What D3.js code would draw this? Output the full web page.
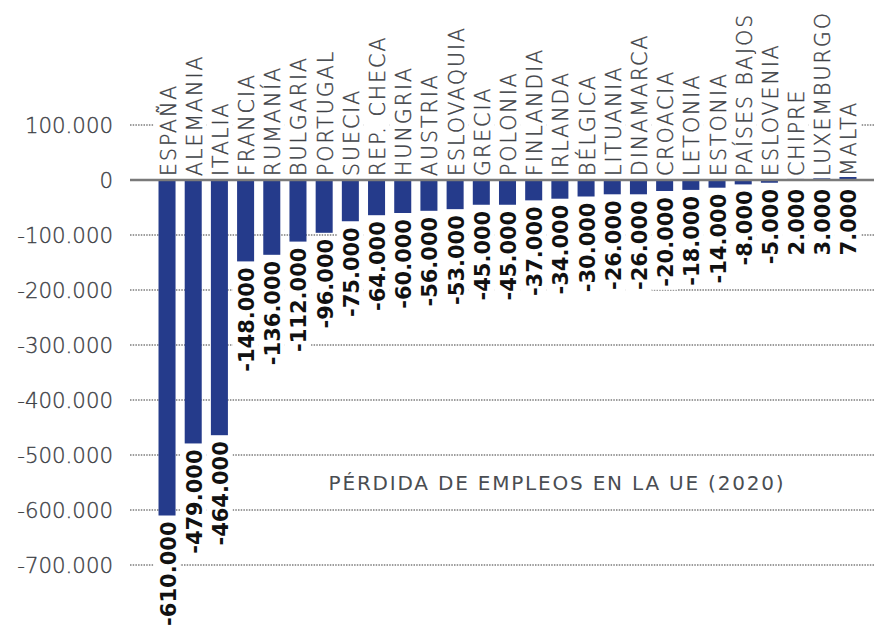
<!DOCTYPE html>
<html>
<head>
<meta charset="utf-8">
<script src="https://cdn.jsdelivr.net/npm/d3@7"></script>
<style>
  html, body { margin: 0; padding: 0; background: #fff; }
  svg { display: block; }
</style>
</head>
<body>
<svg id="chart" width="874" height="625"></svg>
<script>
const categories = ["ESPAÑA","ALEMANIA","ITALIA","FRANCIA","RUMANÍA","BULGARIA","PORTUGAL","SUECIA","REP. CHECA","HUNGRIA","AUSTRIA","ESLOVAQUIA","GRECIA","POLONIA","FINLANDIA","IRLANDA","BÉLGICA","LITUANIA","DINAMARCA","CROACIA","LETONIA","ESTONIA","PAÍSES BAJOS","ESLOVENIA","CHIPRE","LUXEMBURGO","MALTA"];
const values = [-610000,-479000,-464000,-148000,-136000,-112000,-96000,-75000,-64000,-60000,-56000,-53000,-45000,-45000,-37000,-34000,-30000,-26000,-26000,-20000,-18000,-14000,-8000,-5000,2000,3000,7000];
const yTicks = [100000,0,-100000,-200000,-300000,-400000,-500000,-600000,-700000];
const title = "PÉRDIDA DE EMPLEOS EN LA UE (2020)";

const data = categories.map((c, i) => ({ c, v: values[i] }));
const svg = d3.select("#chart");
const W = 874;

const loc = d3.formatLocale({ decimal: ",", thousands: ".", grouping: [3], currency: ["", "€"], minus: "-" });
const fmt = loc.format(",");

const x = d3.scaleBand().domain(categories).range([150, 865]).paddingInner(0.35).paddingOuter(0.325);
const y = d3.scaleLinear().domain([-700000, 100000]).range([565, 125]);

const gridX0 = 130;

// gridlines
svg.append("g").selectAll("line").data(yTicks.filter(t => t !== 0)).join("line")
  .attr("x1", gridX0).attr("x2", W)
  .attr("y1", d => y(d)).attr("y2", d => y(d))
  .attr("stroke", "#7c7c7c").attr("stroke-width", 1.4).attr("stroke-dasharray", "1.5,1.2");

// tick labels
svg.append("g").selectAll("text").data(yTicks).join("text")
  .attr("x", 113).attr("y", d => y(d)).attr("dy", "0.36em")
  .attr("text-anchor", "end")
  .attr("font-family", "DejaVu Sans").attr("font-weight", 300)
  .attr("font-size", 21.3).attr("fill", "#3e4146")
  .attr("stroke", "#3e4146").attr("stroke-width", 0.35)
  .text(d => fmt(d));

// bars
svg.append("g").selectAll("rect").data(data).join("rect")
  .attr("x", d => x(d.c)).attr("width", x.bandwidth())
  .attr("y", d => y(Math.max(0, d.v)))
  .attr("height", d => Math.abs(y(d.v) - y(0)))
  .attr("fill", "#253b8b");

const step = x.step();

// country labels
const cg = svg.append("g");
data.forEach(d => {
  const g = cg.append("g").attr("transform", `translate(${x(d.c) + x.bandwidth()},176) rotate(-90)`);
  const bg = g.append("rect").attr("fill", "#fff");
  const t = g.append("text").attr("x", 0).attr("y", 0)
    .attr("text-anchor", "start")
    .attr("font-family", "DejaVu Sans").attr("font-weight", 300)
    .attr("font-size", 20.5).attr("letter-spacing", 2).attr("fill", "#3e4146")
    .attr("stroke", "#3e4146").attr("stroke-width", 0.35)
    .text(d.c);
  const len = t.node().getComputedTextLength();
  const cx = -x.bandwidth() / 2;
  bg.attr("x", -1).attr("width", len + 3).attr("y", cx - step / 2).attr("height", step);
});

// value labels
const vg = svg.append("g");
data.forEach(d => {
  const endY = Math.max(y(Math.min(d.v, 0)), 183) + 6;
  const g = vg.append("g").attr("transform", `translate(${x(d.c) + x.bandwidth()},${endY}) rotate(-90)`);
  const bg = g.append("rect").attr("fill", "#fff");
  const t = g.append("text").attr("x", 0).attr("y", 0)
    .attr("text-anchor", "end")
    .attr("font-family", "DejaVu Sans").attr("font-weight", "bold")
    .attr("font-size", 21).attr("fill", "#111")
    .text(fmt(d.v));
  const len = t.node().getComputedTextLength();
  const cx = -x.bandwidth() / 2;
  bg.attr("x", -len - 3).attr("width", len + 5).attr("y", cx - step / 2).attr("height", step);
});

// zero line
svg.append("line").attr("x1", gridX0).attr("x2", W).attr("y1", y(0)).attr("y2", y(0))
  .attr("stroke", "#7a7a7a").attr("stroke-width", 2.6);

// title
svg.append("text").attr("x", 557).attr("y", 490).attr("text-anchor", "middle")
  .attr("font-family", "DejaVu Sans")
  .attr("font-size", 20).attr("letter-spacing", 1.8).attr("fill", "#4a4d52")
  .text(title);
</script>
</body>
</html>
